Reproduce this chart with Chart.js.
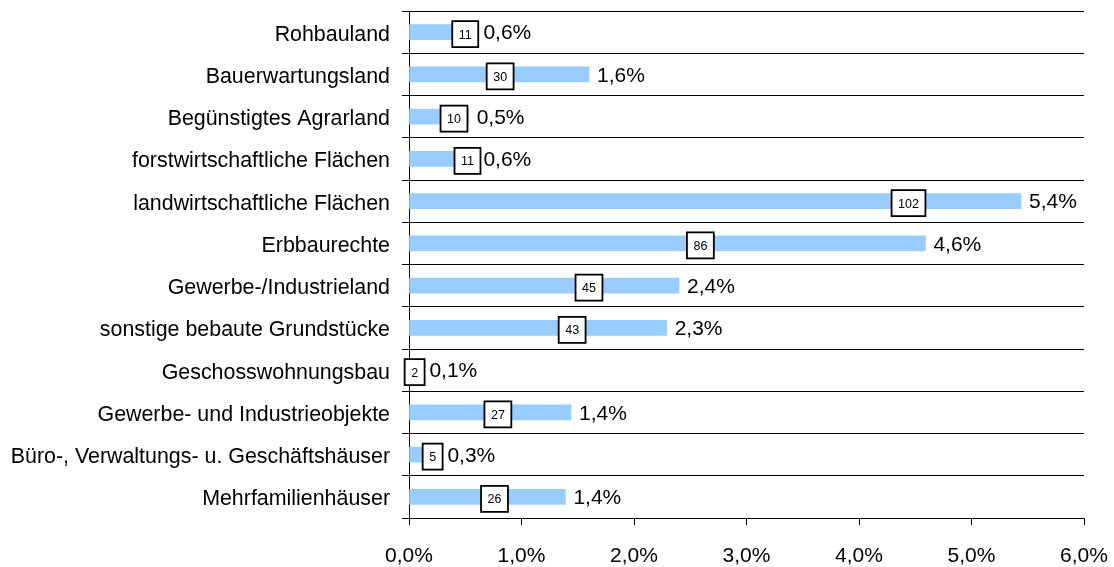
<!DOCTYPE html>
<html>
<head>
<meta charset="utf-8">
<script src="https://cdn.jsdelivr.net/npm/chart.js@4/dist/chart.umd.min.js"></script>
<style>
  html, body { margin: 0; padding: 0; background: #fff; }
  #grafico { display: block; }
</style>
</head>
<body>
<canvas id="grafico" width="1114" height="567"></canvas>
<script>
// Kategorien (von oben nach unten)
var kategorien = [
    "Rohbauland",
    "Bauerwartungsland",
    "Begünstigtes Agrarland",
    "forstwirtschaftliche Flächen",
    "landwirtschaftliche Flächen",
    "Erbbaurechte",
    "Gewerbe-/Industrieland",
    "sonstige bebaute Grundstücke",
    "Geschosswohnungsbau",
    "Gewerbe- und Industrieobjekte",
    "Büro-, Verwaltungs- u. Geschäftshäuser",
    "Mehrfamilienhäuser"
];
// Anteil in Prozent (Balkenlänge)
var anteile = [0.59, 1.60, 0.53, 0.59, 5.44, 4.59, 2.40, 2.29, 0.11, 1.44, 0.27, 1.39];
// Anzahl (Zahl im Kasten)
var anzahlen = [11, 30, 10, 11, 102, 86, 45, 43, 2, 27, 5, 26];
// Lage der Kästchen auf der x-Achse (in %)
var kastenLage = [0.50, 0.81, 0.40, 0.52, 4.44, 2.59, 1.60, 1.45, 0.05, 0.79, 0.21, 0.76];
// Achsenbeschriftung
var achsenTicks = [0, 1, 2, 3, 4, 5, 6];

var schrift = '"Liberation Sans", Arial, sans-serif';

function prozent_text(wert) {
    return wert.toFixed(1).replace('.', ',') + '%';
}

// Beschriftungen: Prozent am Balkenende und Anzahl im Kasten
var beschriftungen = {
    id: 'beschriftungen',
    afterDatasetsDraw: function(chart) {
        var ctx = chart.ctx;
        var meta = chart.getDatasetMeta(0);
        var xAchse = chart.scales.x;
        ctx.save();
        meta.data.forEach(function(balken, i) {
            ctx.font = '21px ' + schrift;
            ctx.fillStyle = '#000';
            ctx.textAlign = 'left';
            ctx.textBaseline = 'middle';
            ctx.fillText(prozent_text(anteile[i]), balken.x + 8, balken.y + 1.5);

            var cx = xAchse.getPixelForValue(kastenLage[i]);
            var cy = balken.y + 2;
            ctx.font = '12.5px ' + schrift;
            var txt = String(anzahlen[i]);
            var b = ctx.measureText(txt).width + 13;
            var h = 26;
            ctx.fillStyle = '#fff';
            ctx.fillRect(cx - b / 2, cy - h / 2, b, h);
            ctx.lineWidth = 1.8;
            ctx.strokeStyle = '#000';
            ctx.strokeRect(cx - b / 2, cy - h / 2, b, h);
            ctx.fillStyle = '#000';
            ctx.textAlign = 'center';
            ctx.fillText(txt, cx, cy + 1);
        });
        ctx.restore();
    }
};

var contexto = document.getElementById('grafico').getContext('2d');
var grafico = new Chart(contexto, {
    type: 'bar',
    data: {
        labels: kategorien,
        datasets: [{
            data: anteile,
            backgroundColor: '#99CCFF',
            borderWidth: 0,
            barThickness: 15
        }]
    },
    options: {
        indexAxis: 'y',
        responsive: false,
        animation: false,
        devicePixelRatio: 1,
        layout: { padding: { top: 11, right: 30, left: 0, bottom: 0 } },
        plugins: {
            legend: { display: false },
            tooltip: { enabled: false }
        },
        scales: {
            x: {
                min: 0,
                max: 6,
                afterBuildTicks: function(achse) {
                    achse.ticks = achsenTicks.map(function(v) { return { value: v }; });
                },
                ticks: {
                    color: '#000',
                    font: { family: schrift, size: 21 },
                    padding: 19,
                    maxRotation: 0,
                    callback: function(v) { return prozent_text(v); }
                },
                grid: { drawOnChartArea: false, tickLength: 7, color: '#000' },
                border: { color: '#000' },
                afterFit: function(achse) {
                    achse.height = 49;
                    achse.paddingLeft = 0;
                    achse.paddingRight = 0;
                }
            },
            y: {
                grid: { offset: true, tickLength: 7, color: '#000' },
                border: { color: '#000' },
                ticks: {
                    color: '#000',
                    font: { family: schrift, size: 21.4 },
                    padding: 12,
                    labelOffset: 2.5
                },
                afterFit: function(achse) {
                    achse.width = 409;
                    achse.paddingTop = 0;
                    achse.paddingBottom = 0;
                }
            }
        }
    },
    plugins: [beschriftungen]
});
</script>
</body>
</html>
